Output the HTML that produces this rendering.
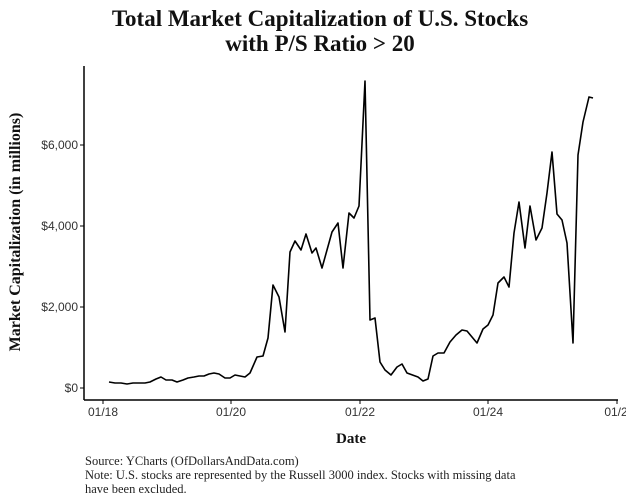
<!DOCTYPE html>
<html><head><style>
body{margin:0;background:#fff;}
svg{display:block;}
</style></head><body>
<svg width="626" height="501" xmlns="http://www.w3.org/2000/svg">
<rect width="626" height="501" fill="#fff"/>
<text x="320" y="26" text-anchor="middle" font-family="Liberation Serif, serif" font-weight="bold" font-size="23" fill="#111">Total Market Capitalization of U.S. Stocks</text>
<text x="320" y="51" text-anchor="middle" font-family="Liberation Serif, serif" font-weight="bold" font-size="23" fill="#111">with P/S Ratio &gt; 20</text>
<text transform="translate(20,232) rotate(-90)" text-anchor="middle" font-family="Liberation Serif, serif" font-weight="bold" font-size="16" fill="#111">Market Capitalization (in millions)</text>
<line x1="84" y1="66" x2="84" y2="400" stroke="#000" stroke-width="1.5"/>
<line x1="84" y1="400" x2="618" y2="400" stroke="#000" stroke-width="1.5"/>
<g font-family="Liberation Sans, sans-serif" font-size="12" fill="#333" text-anchor="end">
<text x="78" y="392">$0</text><line x1="80" y1="388" x2="84" y2="388" stroke="#000"/>
<text x="78" y="311">$2,000</text><line x1="80" y1="307" x2="84" y2="307" stroke="#000"/>
<text x="78" y="230">$4,000</text><line x1="80" y1="226" x2="84" y2="226" stroke="#000"/>
<text x="78" y="149">$6,000</text><line x1="80" y1="145" x2="84" y2="145" stroke="#000"/>
</g>
<g font-family="Liberation Sans, sans-serif" font-size="12" fill="#333" text-anchor="middle">
<text x="103" y="416">01/18</text><line x1="103" y1="400" x2="103" y2="404" stroke="#000"/>
<text x="231" y="416">01/20</text><line x1="231" y1="400" x2="231" y2="404" stroke="#000"/>
<text x="360" y="416">01/22</text><line x1="360" y1="400" x2="360" y2="404" stroke="#000"/>
<text x="488" y="416">01/24</text><line x1="488" y1="400" x2="488" y2="404" stroke="#000"/>
<text x="616" y="416">01/2</text><line x1="617" y1="400" x2="617" y2="404" stroke="#000"/>
</g>
<text x="351" y="443" text-anchor="middle" font-family="Liberation Serif, serif" font-weight="bold" font-size="15" fill="#111">Date</text>
<polyline fill="none" stroke="#000" stroke-width="1.6" stroke-linejoin="round" points="109,382 115,383 121,383 127,384 133,383 139,383 145,383 150,382 156,379 161,377 166,380 172,380 177,382 183,380 188,378 194,377 199,376 204,376 209,374 214,373 219,374 225,378 230,378 235,375 240,376 245,377 250,373 257,357 263,356 268,338 273,285 279,297 285,332 290,252 295,241 301,250 306,234 312,253 316,248 322,268 327,250 332,232 338,223 343,268 349,213 354,218 359,206 365,81 370,320 375,318 380,362 385,370 391,375 397,367 402,364 407,373 418,377 423,381 428,379 433,356 438,353 444,353 450,342 456,335 462,330 467,331 477,343 483,329 488,325 493,315 498,283 504,277 509,287 514,233 519,202 525,248 530,206 536,240 542,228 547,193 552,152 557,214 562,220 567,243 573,343 578,155 583,122 589,97 593,98"/>
<g font-family="Liberation Serif, serif" font-size="12.5" fill="#222">
<text x="85" y="465">Source: YCharts (OfDollarsAndData.com)</text>
<text x="85" y="479">Note: U.S. stocks are represented by the Russell 3000 index. Stocks with missing data</text>
<text x="85" y="493">have been excluded.</text>
</g>
</svg>
</body></html>
